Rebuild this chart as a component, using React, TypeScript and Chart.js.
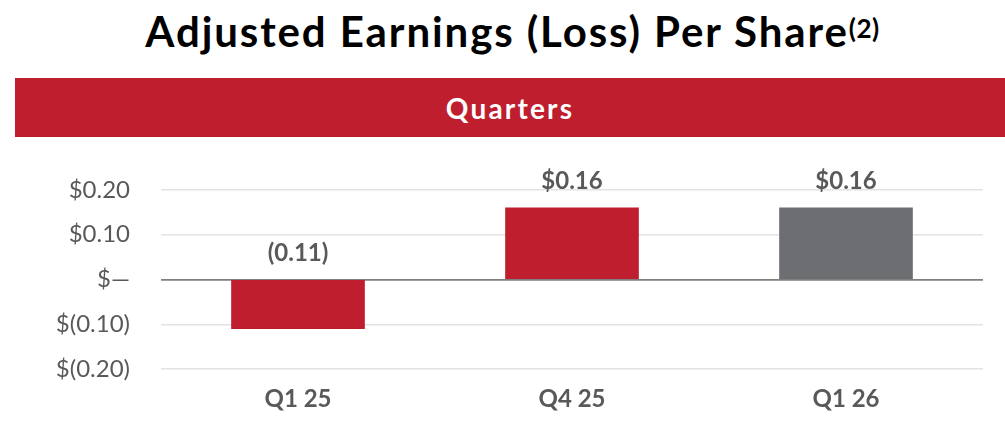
import React, { useEffect, useRef } from "react";
import { Chart, registerables } from "chart.js";

Chart.register(...registerables);

const categories = ["Q1 25", "Q4 25", "Q1 26"];
const values = [-0.11, 0.16, 0.16];
const valueLabels = ["(0.11)", "$0.16", "$0.16"];
const barColors = ["#be1e2d", "#be1e2d", "#6d6e71"];
const tickValues = [0.2, 0.1, 0, -0.1, -0.2];
const tickLabels = ["$0.20", "$0.10", "$\u2014", "$(0.10)", "$(0.20)"];

const FONT = "Lato, 'Open Sans', sans-serif";
const TEXT_GRAY = "#595959";

const valueLabelPlugin = {
  id: "valueLabels",
  afterDatasetsDraw(chart: any) {
    const ctx = chart.ctx;
    const meta = chart.getDatasetMeta(0);
    ctx.save();
    ctx.font = `bold 24px ${FONT}`;
    ctx.fillStyle = TEXT_GRAY;
    ctx.textAlign = "center";
    ctx.textBaseline = "middle";
    meta.data.forEach((bar: any, i: number) => {
      const top = Math.min(bar.y, bar.base);
      ctx.fillText(valueLabels[i], bar.x, top - 27);
    });
    ctx.restore();
  },
};

export default function App() {
  const canvasRef = useRef<HTMLCanvasElement | null>(null);

  useEffect(() => {
    document.body.style.margin = "0";
    const canvas = canvasRef.current;
    if (!canvas) return;
    const chart = new Chart(canvas, {
      type: "bar",
      data: {
        labels: categories,
        datasets: [
          {
            data: values,
            backgroundColor: barColors,
            barThickness: 133,
          },
        ],
      },
      plugins: [valueLabelPlugin],
      options: {
        animation: false,
        responsive: false,
        maintainAspectRatio: false,
        layout: { padding: { top: 50, right: 22, left: 0, bottom: 0 } },
        plugins: {
          legend: { display: false },
          tooltip: { enabled: false },
          title: { display: false },
        },
        scales: {
          x: {
            grid: { display: false, drawTicks: false },
            border: { display: false },
            ticks: {
              color: TEXT_GRAY,
              font: { family: FONT, size: 24, weight: "bold" },
              padding: 16,
            },
            afterFit(scale: any) {
              scale.height = 53;
            },
          },
          y: {
            min: -0.2,
            max: 0.2,
            grid: {
              drawTicks: false,
              color: (c: any) => (c.tick && c.tick.value === 0 ? "#7f7f7f" : "#e3e3e3"),
              lineWidth: (c: any) => (c.tick && c.tick.value === 0 ? 1.8 : 1.5),
            },
            border: { display: false },
            afterBuildTicks(scale: any) {
              scale.ticks = tickValues.map((v) => ({ value: v }));
            },
            ticks: {
              color: TEXT_GRAY,
              font: { family: FONT, size: 24 },
              padding: 31,
              callback: (v: any) => {
                const idx = tickValues.findIndex((t) => Math.abs(t - Number(v)) < 1e-9);
                return idx >= 0 ? tickLabels[idx] : "";
              },
            },
            afterFit(scale: any) {
              scale.width = 161;
            },
          },
        },
      },
    });
    return () => chart.destroy();
  }, []);

  return (
    <div style={{ position: "relative", width: 1005, height: 422, background: "#fff", overflow: "hidden" }}>
      <div
        style={{
          position: "absolute",
          left: 0,
          top: 8,
          width: 1005,
          textAlign: "center",
          fontFamily: FONT,
          fontWeight: 700,
          fontSize: 42,
          lineHeight: "46px",
          color: "#000",
          letterSpacing: 1.9,
          paddingLeft: 20,
          boxSizing: "border-box",
          whiteSpace: "nowrap",
        }}
      >
        Adjusted Earnings (Loss) Per Share
        <sup style={{ fontSize: 26, verticalAlign: "top", position: "relative", top: -3, letterSpacing: 0.5 }}>(2)</sup>
      </div>
      <div
        style={{
          position: "absolute",
          left: 15,
          top: 78,
          width: 990,
          height: 59,
          background: "#be1e2d",
          color: "#fff",
          fontFamily: FONT,
          fontWeight: 700,
          fontSize: 28,
          letterSpacing: 2.2,
          display: "flex",
          alignItems: "center",
          justifyContent: "center",
          boxSizing: "border-box",
        }}
      >
        <span>Quarters</span>
      </div>
      <canvas
        ref={canvasRef}
        width={1005}
        height={282}
        style={{ position: "absolute", left: 0, top: 140, width: 1005, height: 282 }}
      />
    </div>
  );
}
